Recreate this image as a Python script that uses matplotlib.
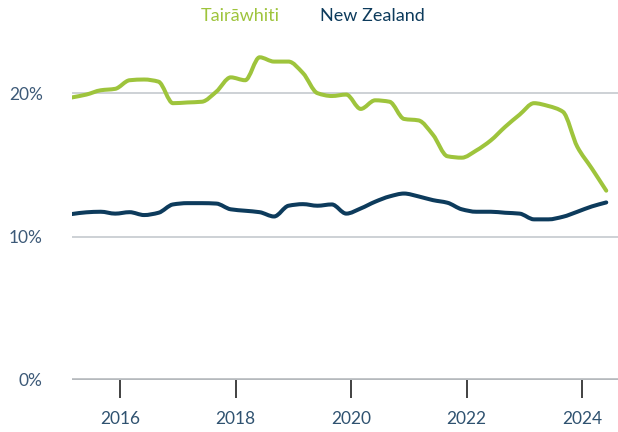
"""Unemployment-style rate chart: Tairāwhiti vs New Zealand."""
import matplotlib
matplotlib.use("Agg")
import matplotlib.pyplot as plt
import numpy as np
import pandas as pd
from matplotlib.lines import Line2D
from matplotlib.patches import PathPatch
from matplotlib.path import Path

plt.rcParams["font.family"] = ["Lato", "DejaVu Sans"]

quarters = pd.period_range("2015Q1", "2024Q2", freq="Q")

tairawhiti = [
    19.7, 19.9, 20.2, 20.3, 20.9, 20.95, 20.8, 19.3, 19.35, 19.4,
    20.1, 21.1, 20.9, 22.5, 22.2, 22.2, 21.4, 20.0, 19.8, 19.9,
    18.9, 19.5, 19.4, 18.2, 18.1, 17.1, 15.6, 15.5, 16.0, 16.7,
    17.65, 18.5, 19.3, 19.1, 18.7, 16.25, 14.75, 13.2,
]
new_zealand = [
    11.57, 11.69, 11.73, 11.6, 11.7, 11.5, 11.66, 12.24, 12.33, 12.33,
    12.3, 11.9, 11.8, 11.7, 11.4, 12.15, 12.26, 12.15, 12.24, 11.6,
    11.96, 12.43, 12.8, 13.0, 12.8, 12.54, 12.36, 11.9, 11.73, 11.73,
    11.66, 11.6, 11.2, 11.2, 11.38, 11.73, 12.1, 12.38,
]
series_names = ["Tairāwhiti", "New Zealand"]
series_colors = ["#9ec43c", "#0d3b5c"]
year_ticks = [2016, 2018, 2020, 2022, 2024]
pct_ticks = [0, 10, 20]

# quarter-end month as fractional year
x = np.array([q.year + (q.quarter * 3 - 1) / 12 for q in quarters])


def monotone_path(xs, ys):
    """Monotone cubic (Fritsch-Carlson) curve through the points as a Bezier path."""
    xs = np.asarray(xs, float)
    ys = np.asarray(ys, float)
    h = np.diff(xs)
    d = np.diff(ys) / h
    m = np.zeros_like(ys)
    m[0], m[-1] = d[0], d[-1]
    for i in range(1, len(ys) - 1):
        if d[i - 1] * d[i] <= 0:
            m[i] = 0.0
        else:
            w1 = 2 * h[i] + h[i - 1]
            w2 = h[i] + 2 * h[i - 1]
            m[i] = (w1 + w2) / (w1 / d[i - 1] + w2 / d[i])
    verts = [(xs[0], ys[0])]
    codes = [Path.MOVETO]
    for i in range(len(xs) - 1):
        verts += [
            (xs[i] + h[i] / 3, ys[i] + m[i] * h[i] / 3),
            (xs[i + 1] - h[i] / 3, ys[i + 1] - m[i + 1] * h[i] / 3),
            (xs[i + 1], ys[i + 1]),
        ]
        codes += [Path.CURVE4] * 3
    return Path(verts, codes)


fig = plt.figure(figsize=(6.18, 4.32), dpi=100)
ax = fig.add_axes([0.1165, 0.1204, 0.8835, 0.83])

for values, color in zip([tairawhiti, new_zealand], series_colors):
    ax.add_patch(PathPatch(monotone_path(x, values), fill=False, edgecolor=color,
                           linewidth=2.9, capstyle="round", joinstyle="round", zorder=3))

ax.set_xlim(2015.169, 2024.62)
ax.set_ylim(0, 25)

ax.set_yticks(pct_ticks)
ax.set_yticklabels([f"{v}%" for v in pct_ticks])
ax.set_xticks(year_ticks)
ax.set_xticklabels([str(y) for y in year_ticks])

for v in pct_ticks[1:]:
    ax.axhline(v, color="#cdd1d5", linewidth=1.4, zorder=1)
ax.axhline(0, color="#b5b9bd", linewidth=2.6, zorder=2)

for side in ["top", "right", "left", "bottom"]:
    ax.spines[side].set_visible(False)

ax.tick_params(axis="y", length=0, pad=21, labelsize=12.5, labelcolor="#3d5a78")
ax.tick_params(axis="x", length=13, width=1.3, color="#333333", direction="out",
               pad=9, labelsize=12.5, labelcolor="#2f5270")

handles = [Line2D([], [], color=c, linewidth=0) for c in series_colors]
leg = fig.legend(handles, series_names, loc="center", bbox_to_anchor=(0.506, 0.963),
                 ncol=2, frameon=False, handlelength=0, handletextpad=0,
                 columnspacing=2.2, fontsize=13)
for text, color in zip(leg.get_texts(), series_colors):
    text.set_color(color)

fig.savefig("out.png", dpi=100)
